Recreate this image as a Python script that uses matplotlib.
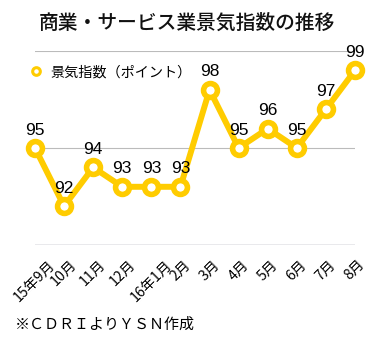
import matplotlib
matplotlib.use("Agg")
import matplotlib.pyplot as plt
from matplotlib.lines import Line2D

plt.rcParams['font.family'] = ['Noto Sans CJK JP', 'DejaVu Sans']

categories = ["15年9月", "10月", "11月", "12月", "16年1月", "2月", "3月",
              "4月", "5月", "6月", "7月", "8月"]
values = [95, 92, 94, 93, 93, 93, 98, 95, 96, 95, 97, 99]
title = "商業・サービス業景気指数の推移"
legend_label = "景気指数（ポイント）"
note = "※ＣＤＲＩよりＹＳＮ作成"

YELLOW = "#FFCC00"

fig = plt.figure(figsize=(3.74, 3.37), dpi=100)
ax = fig.add_axes([35/374, 92/337, 320/374, 194/337])
x = list(range(len(values)))

for yv in (95, 100):
    ax.axhline(yv, color="#BBBBBB", lw=0.8, zorder=1)
ax.axhline(90, color="#55556A", lw=0.9, zorder=1)

ax.plot(x, values, color=YELLOW, lw=4.3, marker='o', ms=10,
        mew=4.0, mfc='white', mec=YELLOW, zorder=3, clip_on=False,
        solid_joinstyle='round')

for xi, v in zip(x, values):
    ax.annotate(str(v), (xi, v), xytext=(0, 7.5), textcoords='offset points',
                ha='center', va='bottom', fontsize=12.5, color='black',
                family=['Liberation Sans', 'DejaVu Sans'], zorder=4)

ax.set_xlim(0, len(values) - 1)
ax.set_ylim(90, 100)
ax.set_yticks([])
ax.set_xticks(x)
ax.set_xticklabels(categories, rotation=45, ha='center', va='top',
                   fontsize=10.2)
ax.tick_params(axis='x', length=0, pad=9)
for s in ax.spines.values():
    s.set_visible(False)
ax.patch.set_alpha(0)

fig.text(0.5, 1 - 23/337, title, ha='center', va='center', fontsize=14.2,
         color='#111111', fontweight='medium')

leg_handle = Line2D([0], [0], color=YELLOW, lw=0, marker='o', ms=5.5,
                    mew=2.2, mfc='white', mec=YELLOW)
fig.legend([leg_handle], [legend_label], loc='center left',
           bbox_to_anchor=(22/374, 1 - 72/337), frameon=False,
           fontsize=10.2, handlelength=1.0, handletextpad=0.5, borderpad=0)

fig.text(15/374, 1 - 325/337, note, ha='left', va='center', fontsize=10.8,
         color='black')

fig.savefig("out.png", dpi=100)
